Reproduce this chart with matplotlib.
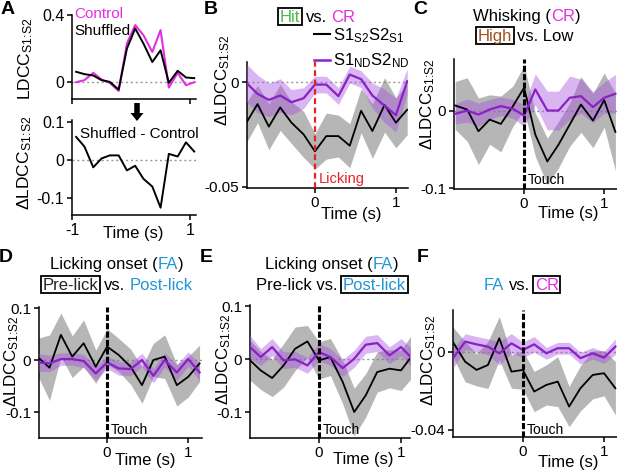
import matplotlib
matplotlib.use('Agg')
import matplotlib.pyplot as plt
from matplotlib.patches import FancyArrow, Rectangle
from matplotlib.lines import Line2D
from matplotlib import transforms

plt.rcParams['font.family'] = ['Liberation Sans', 'DejaVu Sans']
plt.rcParams['mathtext.fontset'] = 'custom'
plt.rcParams['mathtext.rm'] = 'Liberation Sans'
plt.rcParams['mathtext.it'] = 'Liberation Sans'
plt.rcParams['mathtext.bf'] = 'Liberation Sans:bold'
plt.rcParams['mathtext.sf'] = 'Liberation Sans'
plt.rcParams['axes.unicode_minus'] = False

# ---------------- data ----------------
TIME_A = [-0.93, -0.79, -0.64, -0.50, -0.36, -0.21, -0.07, 0.07, 0.21, 0.36, 0.50, 0.64, 0.79, 0.93, 1.07]
CONTROL_A = [0.0, 0.012, 0.056, 0.016, -0.004, -0.052, 0.23, 0.34, 0.28, 0.18, 0.31, -0.032, 0.056, -0.018, 0.0]
SHUFFLED_A = [0.062, 0.048, 0.040, 0.012, 0.002, -0.044, 0.20, 0.32, 0.23, 0.12, 0.19, -0.004, 0.068, 0.028, 0.024]
DIFF_A = [0.060, 0.035, -0.019, 0.004, 0.012, 0.012, -0.027, -0.015, -0.049, -0.069, -0.124, 0.016, 0.009, 0.046, 0.022]

TIME = [-0.86, -0.71, -0.57, -0.43, -0.29, -0.14, 0.0, 0.14, 0.29, 0.43, 0.57, 0.71, 0.86, 1.0, 1.14]

B_BLACK = [-0.0201, -0.0104, -0.0212, -0.0120, -0.0193, -0.0249, -0.0330, -0.0257, -0.0257, -0.0303, -0.0136, -0.0233, -0.0108, -0.0193, -0.0131]
B_BLACK_SEM = [0.0097, 0.0089, 0.011, 0.011, 0.010, 0.011, 0.0084, 0.011, 0.010, 0.0105, 0.0105, 0.013, 0.013, 0.012, 0.012]
B_PURPLE = [0.0002, -0.0055, -0.0084, -0.0063, -0.0095, -0.0076, -0.0011, -0.0011, -0.0066, 0.0037, 0.0015, -0.0063, -0.0112, -0.0157, 0.0005]
B_PURPLE_SEM = [0.009, 0.009, 0.008, 0.008, 0.006, 0.005, 0.004, 0.004, 0.004, 0.004, 0.004, 0.006, 0.008, 0.008, 0.006]

C_BLACK = [0.0069, 0.0017, -0.0264, -0.0113, -0.0169, 0.006, 0.0299, -0.0307, -0.0654, -0.0437, -0.0177, 0.0082, -0.0126, 0.0139, -0.0273]
C_BLACK_SEM = [0.031, 0.041, 0.043, 0.032, 0.036, 0.026, 0.029, 0.028, 0.030, 0.030, 0.028, 0.036, 0.035, 0.035, 0.05]
C_PURPLE = [-0.0039, 0.0004, -0.0048, 0.0017, 0.0061, 0.0026, -0.0061, 0.0277, 0.0004, 0.0004, 0.0169, 0.019, 0.0048, 0.0169, 0.0221]
C_PURPLE_SEM = [0.013, 0.015, 0.015, 0.013, 0.012, 0.012, 0.014, 0.02, 0.025, 0.025, 0.028, 0.022, 0.02, 0.02, 0.025]

D_BLACK = [0.0065, -0.0148, 0.0484, 0.0065, 0.0323, -0.0129, 0.0258, 0.010, -0.0129, -0.0484, 0.0, 0.0065, -0.0484, -0.0323, -0.0065]
D_BLACK_SEM = [0.035, 0.063, 0.042, 0.04, 0.045, 0.032, 0.034, 0.032, 0.034, 0.035, 0.032, 0.042, 0.04, 0.039, 0.035]
D_PURPLE = [-0.0045, -0.0065, 0.0019, 0.0019, -0.0019, -0.0258, -0.0045, -0.0161, -0.0174, 0.0, -0.0303, 0.0, -0.0239, 0.0019, -0.0239]
D_PURPLE_SEM = [0.017, 0.016, 0.012, 0.012, 0.013, 0.013, 0.012, 0.013, 0.013, 0.013, 0.014, 0.014, 0.015, 0.014, 0.016]

E_BLACK = [0.0006, -0.0214, -0.0358, -0.0119, 0.0195, 0.0333, -0.0025, 0.0038, -0.0434, -0.100, -0.0686, -0.0245, -0.0182, -0.0214, 0.0069]
E_BLACK_SEM = [0.038, 0.036, 0.035, 0.041, 0.041, 0.030, 0.035, 0.035, 0.041, 0.045, 0.041, 0.038, 0.036, 0.038, 0.041]
E_PURPLE = [0.0258, 0.0038, 0.0226, -0.0025, -0.0006, -0.012, 0.0132, 0.0038, -0.017, 0.0006, 0.027, 0.0302, 0.0069, 0.0226, 0.0006]
E_PURPLE_SEM = [0.022, 0.016, 0.016, 0.016, 0.015, 0.015, 0.016, 0.016, 0.016, 0.016, 0.016, 0.016, 0.016, 0.016, 0.018]

F_BLACK = [0.005, -0.005, -0.0092, -0.0067, 0.007, -0.0101, -0.0092, -0.0203, -0.0169, -0.0152, -0.028, -0.0186, -0.0118, -0.0109, -0.0186]
F_BLACK_SEM = [0.0077, 0.0103, 0.0082, 0.012, 0.0111, 0.0085, 0.0099, 0.0103, 0.0103, 0.0128, 0.0103, 0.0116, 0.0123, 0.0116, 0.0137]
F_PURPLE = [-0.0032, 0.0053, 0.0039, 0.0027, -0.0007, 0.0044, 0.001, 0.0039, -0.0007, 0.0019, 0.0019, -0.0032, -0.0007, -0.0029, 0.0027]
F_PURPLE_SEM = [0.005, 0.004, 0.004, 0.004, 0.006, 0.005, 0.004, 0.004, 0.003, 0.003, 0.003, 0.003, 0.003, 0.003, 0.004]

LEGEND_LABELS = [r'S1$_{S2}$S2$_{S1}$', r'S1$_{ND}$S2$_{ND}$']
YLABEL = r'ΔLDCC$_{S1\!:\!S2}$'

# ---------------- style ----------------
MAGENTA = '#E22FE2'
PURPLE = '#8A20C6'
PURPLE_FILL = '#A54FDF'
GRAY_FILL = '#7a7a7a'
BLUE = '#1F97D4'
GREEN = '#4DB848'
BROWN = '#A0521E'
RED = '#E8202A'
ZERO = '#9a9a9a'

W, H = 617, 472
fig = plt.figure(figsize=(W / 100, H / 100), dpi=100)


def add_ax(l, t, r, b):
    return fig.add_axes([l / W, 1 - b / H, (r - l) / W, (b - t) / H])


def style(ax, labelsize=11):
    for s in ['top', 'right']:
        ax.spines[s].set_visible(False)
    for s in ['left', 'bottom']:
        ax.spines[s].set_linewidth(1.1)
    ax.tick_params(direction='out', length=3.5, width=1.1, labelsize=labelsize, pad=2)


def zero_line(ax):
    ax.axhline(0, color=ZERO, lw=1.0, ls=(0, (1.5, 2.0)), zorder=1)


def set_ylabel(ax, x, y, size=12.2):
    ax.set_ylabel(YLABEL, fontsize=size, va='center', ha='center')
    ax.yaxis.set_label_coords(x, y)


def set_xlabel(ax, x, y):
    ax.set_xlabel('Time (s)', fontsize=12, va='center', ha='center')
    ax.xaxis.set_label_coords(x, y)


def traces(ax, black, bsem, purple, psem):
    blo = [m - s for m, s in zip(black, bsem)]
    bhi = [m + s for m, s in zip(black, bsem)]
    plo = [m - s for m, s in zip(purple, psem)]
    phi = [m + s for m, s in zip(purple, psem)]
    ax.fill_between(TIME, blo, bhi, color=GRAY_FILL, alpha=0.55, lw=0, zorder=2)
    ax.fill_between(TIME, plo, phi, color=PURPLE_FILL, alpha=0.42, lw=0, zorder=3)
    ax.plot(TIME, black, color='black', lw=1.3, zorder=5)
    ax.plot(TIME, purple, color=PURPLE, lw=1.6, zorder=6)


def event(ax, label, color='black', red=False, yfrac=0.065):
    if red:
        ax.axvline(0, color=RED, lw=1.6, dashes=(2.6, 1.6), zorder=7)
    else:
        ax.axvline(0, color='black', lw=2.2, dashes=(2.0, 0.75), zorder=7)
    tr = transforms.blended_transform_factory(ax.transData, ax.transAxes)
    ax.text(0.05, yfrac, label, transform=tr, color=color, fontsize=10.5 if red else 10,
            ha='left', va='center', zorder=8)


def rich(xc, yc, parts, size=12):
    """parts: (text, color, boxed, gap_em_before)"""
    r = fig.canvas.get_renderer()
    em = size * fig.dpi / 72.0
    items = []
    total = 0.0
    padx = 0.1 * em
    for i, (s, c, boxed, gap) in enumerate(parts):
        t = fig.text(0, 1 - (yc + 0.36 * em) / H, s, color=c, fontsize=size,
                     ha='left', va='baseline')
        w = t.get_window_extent(r).width
        p = padx if boxed else 0.0
        g = gap * em if i > 0 else 0.0
        items.append((t, w, p, g, boxed))
        total += g + w + 2 * p
    x = xc - total / 2.0
    for t, w, p, g, boxed in items:
        x += g
        if boxed:
            top = yc + 0.36 * em - 0.84 * em
            bot = yc + 0.36 * em + 0.18 * em
            fig.add_artist(Rectangle((x / W, 1 - bot / H), (w + 2 * p) / W, (bot - top) / H,
                                     transform=fig.transFigure, fill=False, ec='black', lw=1.3))
        x += p
        t.set_x(x / W)
        x += w + p


# ---------------- panel A ----------------
axA1 = add_ax(72, 15, 196, 99)
style(axA1, 11.5)
zero_line(axA1)
axA1.plot(TIME_A, CONTROL_A, color=MAGENTA, lw=1.5, zorder=4)
axA1.plot(TIME_A, SHUFFLED_A, color='black', lw=1.4, zorder=5)
axA1.set_xlim(-1, 1.1)
axA1.set_ylim(-0.1, 0.4)
axA1.set_yticks([0, 0.4])
axA1.set_yticklabels(['0', '0.4'])
axA1.set_xticks([-1, 1])
axA1.set_xticklabels([])
axA1.set_ylabel(r'LDCC$_{S1\!:\!S2}$', fontsize=12.5, va='center', ha='center')
axA1.yaxis.set_label_coords(-0.37, 0.48)
axA1.text(0.02, 1.01, 'Control', transform=axA1.transAxes, color=MAGENTA, fontsize=11,
          ha='left', va='center')
axA1.text(0.02, 0.81, 'Shuffled', transform=axA1.transAxes, color='black', fontsize=11,
          ha='left', va='center')

axA2 = add_ax(72, 120, 196, 215)
style(axA2, 11.5)
zero_line(axA2)
axA2.plot(TIME_A, DIFF_A, color='black', lw=1.4, zorder=5)
axA2.set_xlim(-1, 1.1)
axA2.set_ylim(-0.143, 0.104)
axA2.set_yticks([-0.1, 0, 0.1])
axA2.set_yticklabels(['-0.1', '0', '0.1'])
axA2.set_xticks([-1, 1])
axA2.set_xticklabels(['-1', '1'])
set_ylabel(axA2, -0.38, 0.55, 12.5)
set_xlabel(axA2, 0.49, -0.19)
axA2.text(0.065, 0.853, 'Shuffled - Control', transform=axA2.transAxes, fontsize=11,
          ha='left', va='center')
fig.add_artist(FancyArrow(1.37, (H - 103) / 100, 0, -0.18, width=0.055, head_width=0.13,
                          head_length=0.08, length_includes_head=True,
                          transform=fig.dpi_scale_trans, color='black', lw=0))

# ---------------- panel B ----------------
axB = add_ax(247, 62, 408, 188)
style(axB)
zero_line(axB)
traces(axB, B_BLACK, B_BLACK_SEM, B_PURPLE, B_PURPLE_SEM)
event(axB, 'Licking', color=RED, red=True, yfrac=0.07)
axB.set_xlim(-0.84, 1.15)
axB.set_ylim(-0.0505, 0.0097)
axB.set_yticks([-0.05, 0])
axB.set_yticklabels(['-0.05', '0'])
axB.set_xticks([0, 1])
axB.set_xticklabels(['0', '1'])
set_ylabel(axB, -0.15, 0.857)
set_xlabel(axB, 0.65, -0.214)
handles = [Line2D([], [], color='black', lw=1.5), Line2D([], [], color=PURPLE, lw=1.8)]
fig.legend(handles, LEGEND_LABELS, loc='upper right', bbox_to_anchor=(410 / W, 1 - 26 / H),
           frameon=False, fontsize=12, handlelength=0.95, handletextpad=0.2,
           labelspacing=0.4, borderpad=0, borderaxespad=0)

# ---------------- panel C ----------------
axC = add_ax(454, 59, 617, 189)
style(axC)
zero_line(axC)
traces(axC, C_BLACK, C_BLACK_SEM, C_PURPLE, C_PURPLE_SEM)
event(axC, 'Touch', yfrac=0.07)
axC.set_xlim(-0.875, 1.16)
axC.set_ylim(-0.101, 0.067)
axC.set_yticks([-0.1, 0])
axC.set_yticklabels(['-0.1', '0'])
axC.set_xticks([0, 1])
axC.set_xticklabels(['0', '1'])
set_ylabel(axC, -0.16, 0.654)
set_xlabel(axC, 0.70, -0.19)

# ---------------- panel D ----------------
axD = add_ax(39, 307, 202, 438)
style(axD)
zero_line(axD)
traces(axD, D_BLACK, D_BLACK_SEM, D_PURPLE, D_PURPLE_SEM)
event(axD, 'Touch', yfrac=0.06)
axD.set_xlim(-0.84, 1.17)
axD.set_ylim(-0.15, 0.102)
axD.set_yticks([-0.1, 0, 0.1])
axD.set_yticklabels(['-0.1', '0', '0.1'])
axD.set_xticks([0, 1])
axD.set_xticklabels(['0', '1'])
set_ylabel(axD, -0.17, 0.59)
set_xlabel(axD, 0.65, -0.168)

# ---------------- panel E ----------------
axE = add_ax(250, 305, 410, 438)
style(axE)
zero_line(axE)
traces(axE, E_BLACK, E_BLACK_SEM, E_PURPLE, E_PURPLE_SEM)
event(axE, 'Touch', yfrac=0.06)
axE.set_xlim(-0.84, 1.11)
axE.set_ylim(-0.149, 0.102)
axE.set_yticks([-0.1, 0, 0.1])
axE.set_yticklabels(['-0.1', '0', '0.1'])
axE.set_xticks([0, 1])
axE.set_xticklabels(['0', '1'])
set_ylabel(axE, -0.165, 0.59)
set_xlabel(axE, 0.71, -0.165)

# ---------------- panel F ----------------
axF = add_ax(453, 310, 617, 437)
style(axF)
zero_line(axF)
traces(axF, F_BLACK, F_BLACK_SEM, F_PURPLE, F_PURPLE_SEM)
event(axF, 'Touch', yfrac=0.055)
axF.set_xlim(-0.86, 1.16)
axF.set_ylim(-0.0436, 0.0215)
axF.set_yticks([-0.04, 0])
axF.set_yticklabels(['-0.04', '0'])
axF.set_xticks([0, 1])
axF.set_xticklabels(['0', '1'])
set_ylabel(axF, -0.15, 0.606)
set_xlabel(axF, 0.70, -0.197)

# ---------------- titles ----------------
rich(317, 16, [('Hit', GREEN, True, 0), ('vs.', 'black', False, 0.2), ('CR', MAGENTA, False, 0.3)])
rich(527, 15, [('Whisking (', 'black', False, 0), ('CR', MAGENTA, False, 0), (')', 'black', False, 0)])
rich(525, 35, [('High', BROWN, True, 0), ('vs. Low', 'black', False, 0.2)])
rich(117, 263, [('Licking onset (', 'black', False, 0), ('FA', BLUE, False, 0), (')', 'black', False, 0)])
rich(117, 284, [('Pre-lick', '#222222', True, 0), ('vs.', 'black', False, 0.2), ('Post-lick', BLUE, False, 0.28)])
rich(332, 263, [('Licking onset (', 'black', False, 0), ('FA', BLUE, False, 0), (')', 'black', False, 0)])
rich(332, 284, [('Pre-lick vs.', 'black', False, 0), ('Post-lick', BLUE, True, 0.2)])
rich(522, 284, [('FA', BLUE, False, 0), ('vs.', 'black', False, 0.28), ('CR', MAGENTA, True, 0.2)])

for letter, x, y in [('A', 8, 9), ('B', 211, 9), ('C', 420, 9), ('D', 6, 258), ('E', 206, 258), ('F', 423, 258)]:
    fig.text(x / W, 1 - y / H, letter, fontsize=14, fontweight='bold', ha='center', va='center')

fig.savefig('out.png', dpi=100)
